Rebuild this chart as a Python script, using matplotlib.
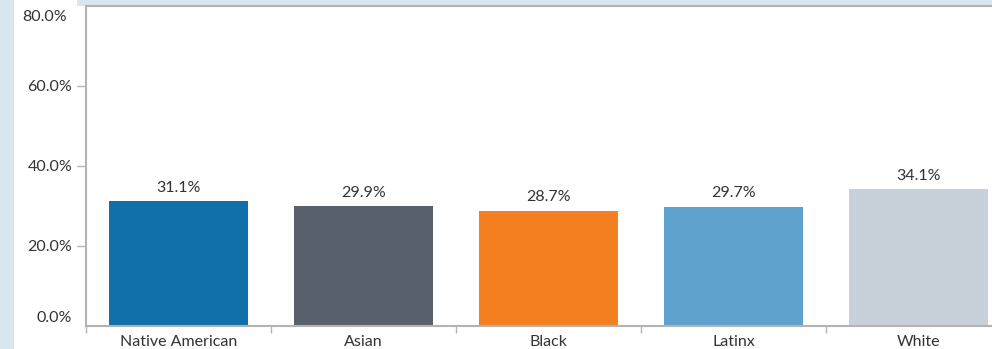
import matplotlib
matplotlib.use("Agg")
import matplotlib.pyplot as plt
from matplotlib.patches import Rectangle
from matplotlib.transforms import offset_copy

categories = ["Native American", "Asian", "Black", "Latinx", "White"]
values = [31.1, 29.9, 28.7, 29.7, 34.1]
labels = ["31.1%", "29.9%", "28.7%", "29.7%", "34.1%"]
colors = ["#1170aa", "#57606c", "#f5801f", "#5fa2ce", "#c8d0d9"]
yticks = [0, 20, 40, 60, 80]
ytick_labels = ["0.0%", "20.0%", "40.0%", "60.0%", "80.0%"]

plt.rcParams['font.family'] = ['Lato', 'DejaVu Sans']
FS = 11.5

W, H = 992, 349
fig = plt.figure(figsize=(W / 100, H / 100), dpi=100)
fig.patch.set_facecolor("#d8e6ee")
# white panel
fig.add_artist(Rectangle((14 / W, 0), 1 - 14 / W, 1 - 6 / H, transform=fig.transFigure,
                         facecolor="white", edgecolor="none", zorder=0))
fig.add_artist(Rectangle((14 / W, 1 - 6 / H), (77 - 14) / W, 6 / H, transform=fig.transFigure,
                         facecolor="white", edgecolor="none", zorder=0))

left = 86 / W
bottom = (H - 325.5) / H
top = (H - 5.5) / H
width = 925 / W
ax = fig.add_axes([left, bottom, width, top - bottom])
ax.set_facecolor("white")

x = list(range(len(categories)))
ax.bar(x, values, width=0.75, color=colors, zorder=2)
ax.set_xlim(-0.5, len(categories) - 0.5)
ax.set_ylim(0, 80)

for xi, v, lab in zip(x, values, labels):
    ax.annotate(lab, (xi, v), xytext=(0, 4.5), textcoords="offset points",
                ha="center", va="bottom", fontsize=FS, color="#333333")

spine_c = "#b3b3b3"
for s in ["left", "bottom", "top"]:
    ax.spines[s].set_color(spine_c)
    ax.spines[s].set_linewidth(1.5)
ax.spines["right"].set_visible(False)

ax.set_yticks(yticks)
ax.set_yticklabels(ytick_labels)
ax.tick_params(axis="y", length=6.5, width=1, color=spine_c, pad=3.5, labelsize=FS, labelcolor="#333333")
# boundary ticks on x
ax.set_xticks([i - 0.5 for i in range(len(categories))])
ax.set_xticklabels([])
ax.set_xticks(x, minor=True)
ax.set_xticklabels(categories, minor=True)
ax.tick_params(axis="x", which="major", length=5, width=1, color=spine_c, direction="out")
ax.tick_params(axis="x", which="minor", length=0, pad=6.5, labelsize=FS, labelcolor="#333333")

# hide tick marks at 0 and 80; shift their labels inward
ticks = ax.yaxis.get_major_ticks()
for t in (ticks[0], ticks[-1]):
    t.tick1line.set_visible(False)
ticks[0].label1.set_va("bottom")
ticks[-1].label1.set_visible(False)
tr = offset_copy(ax.get_yaxis_transform(), fig=fig, x=-13.8, y=-3, units="points")
ax.text(0, yticks[-1], ytick_labels[-1], transform=tr, ha="right", va="top",
        fontsize=FS, color="#333333", clip_on=False)

fig.savefig("out.png", dpi=100, facecolor=fig.get_facecolor())
